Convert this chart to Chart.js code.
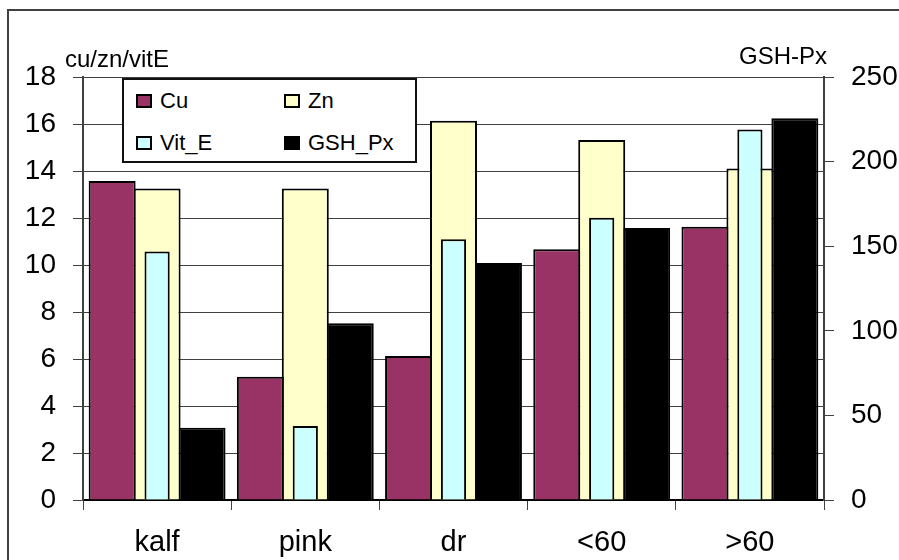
<!DOCTYPE html>
<html>
<head>
<meta charset="utf-8">
<script src="https://cdn.jsdelivr.net/npm/chart.js@4.4.1/dist/chart.umd.min.js"></script>
<style>
  html, body { margin: 0; padding: 0; background: #fff; overflow: hidden; }
  #wrap { position: relative; width: 899px; height: 560px; overflow: hidden; background: #fff; }
  #c { position: absolute; left: 0; top: 0; }
  #legend { position: absolute; left: 122px; top: 78px; width: 291px; height: 81px;
            border: 2px solid #111; background: #fff;
            font-family: 'Liberation Sans', Arial, sans-serif; font-size: 22px; color: #000; }
  .item { position: absolute; height: 26px; line-height: 26px; white-space: nowrap; }
  .sw { position: absolute; left: 0; top: 6px; width: 12px; height: 10px; border: 2px solid #000; }
  .lbl { position: absolute; left: 24px; top: 0; }
</style>
</head>
<body>
<div id="wrap">
  <canvas id="c" width="899" height="560"></canvas>
  <div id="legend"></div>
</div>
<script>
// Groups on the category axis
const categories = ['kalf', 'pink', 'dr', '<60', '>60'];

// Left-axis series (cu/zn/vitE)
const cuValues   = [13.57, 5.25, 6.13, 10.67, 11.63];
const znValues   = [13.26, 13.26, 16.14, 15.32, 14.11];
const vitEValues = [10.57, 3.15, 11.10, 12.01, 15.77];

// Right-axis series (GSH-Px)
const gshPxValues = [42.7, 104.4, 140.0, 160.8, 225.6];

// Axis ranges and captions
const leftAxisMax = 18, leftAxisStep = 2;
const rightAxisMax = 250, rightAxisStep = 50;
const leftAxisCaption = 'cu/zn/vitE';
const rightAxisCaption = 'GSH-Px';

const FONT = "'Liberation Sans', Arial, sans-serif";

// Outer frame edges (left and top) around the chart object
const chartFrame = {
  id: 'chartFrame',
  beforeDraw(chart) {
    const { ctx, width, height } = chart;
    ctx.save();
    ctx.strokeStyle = '#404040';
    ctx.lineWidth = 2;
    ctx.beginPath();
    ctx.moveTo(8, height);
    ctx.lineTo(8, 10);
    ctx.lineTo(width, 10);
    ctx.stroke();
    ctx.restore();
  }
};

// Captions printed above each value axis
const axisCaptions = {
  id: 'axisCaptions',
  afterDraw(chart) {
    const { ctx, chartArea } = chart;
    ctx.save();
    ctx.font = '24px ' + FONT;
    ctx.fillStyle = '#000';
    ctx.textBaseline = 'alphabetic';
    ctx.textAlign = 'left';
    ctx.fillText(leftAxisCaption, chartArea.left - 18, chartArea.top - 10);
    ctx.textAlign = 'right';
    ctx.fillText(rightAxisCaption, chartArea.right + 3, chartArea.top - 13);
    ctx.restore();
  }
};

const barBorder = { borderColor: '#000', borderWidth: 2 };
const grouped = { categoryPercentage: 0.91, barPercentage: 1.045 };

const chart = new Chart(document.getElementById('c'), {
  type: 'bar',
  data: {
    labels: categories,
    datasets: [
      { label: 'Cu', data: cuValues, backgroundColor: '#993366', yAxisID: 'y', ...barBorder, ...grouped },
      { label: 'Zn', data: znValues, backgroundColor: '#FFFFCC', yAxisID: 'y', ...barBorder, ...grouped },
      { label: 'Vit_E', data: vitEValues, backgroundColor: '#CCFFFF', yAxisID: 'y', ...barBorder,
        grouped: false, categoryPercentage: 1, barPercentage: 0.17, order: -1 },
      { label: 'GSH_Px', data: gshPxValues, backgroundColor: '#000000', yAxisID: 'y1', ...barBorder, ...grouped }
    ]
  },
  options: {
    responsive: false,
    devicePixelRatio: 1,
    animation: false,
    layout: { padding: { top: 77, left: 0, right: 0, bottom: 0 } },
    plugins: {
      legend: { display: false },
      tooltip: { enabled: false }
    },
    scales: {
      x: {
        offset: true,
        grid: { offset: true, drawOnChartArea: false, drawTicks: true, tickLength: 10, color: '#404040', lineWidth: 1 },
        border: { display: true, color: '#000', width: 2 },
        ticks: { color: '#000', font: { family: FONT, size: 29 }, padding: 16, maxRotation: 0 },
        afterFit(scale) { scale.height = 60; }
      },
      y: {
        position: 'left',
        min: 0, max: leftAxisMax,
        grid: { color: '#404040', lineWidth: 1, tickLength: 10, drawTicks: true },
        border: { display: true, color: '#404040', width: 2 },
        ticks: { stepSize: leftAxisStep, color: '#000', font: { family: FONT, size: 28 }, padding: 17 },
        afterFit(scale) { scale.width = 83; }
      },
      y1: {
        position: 'right',
        min: 0, max: rightAxisMax,
        grid: { drawOnChartArea: false, color: '#404040', lineWidth: 1, tickLength: 10, drawTicks: true },
        border: { display: true, color: '#404040', width: 2 },
        ticks: { stepSize: rightAxisStep, color: '#000', font: { family: FONT, size: 28 }, padding: 17 },
        afterFit(scale) { scale.width = 75; }
      }
    }
  },
  plugins: [chartFrame, axisCaptions]
});

// Two-column legend built from the chart's own legend items, in series order
const legendBox = document.getElementById('legend');
const items = Chart.defaults.plugins.legend.labels.generateLabels(chart)
  .sort((a, b) => a.datasetIndex - b.datasetIndex);
items.forEach((it, i) => {
  const col = i % 2, row = Math.floor(i / 2);
  const el = document.createElement('div');
  el.className = 'item';
  el.style.left = (12 + col * 148) + 'px';
  el.style.top = (8 + row * 42) + 'px';
  const sw = document.createElement('span');
  sw.className = 'sw';
  sw.style.background = it.fillStyle;
  const tx = document.createElement('span');
  tx.className = 'lbl';
  tx.textContent = it.text;
  el.appendChild(sw);
  el.appendChild(tx);
  legendBox.appendChild(el);
});
</script>
</body>
</html>
